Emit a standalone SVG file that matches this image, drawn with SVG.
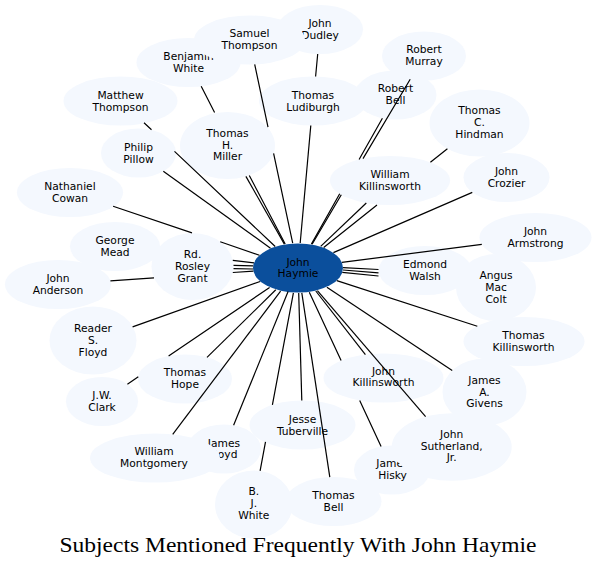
<svg xmlns="http://www.w3.org/2000/svg" width="597" height="574" viewBox="0 0 597 574">
<style>
.n ellipse{fill:#f4f8fe}
.c ellipse{fill:#0b4f9c}
text{font-family:"DejaVu Sans",sans-serif;font-size:10.7px;text-anchor:middle;fill:#000}
.t{font-family:"Liberation Serif",serif;font-size:21px}
#edges path{stroke:#000;stroke-width:1.2;fill:none}
</style>
<rect width="597" height="574" fill="#fff"/>
<g id="nodes">
<g id="john-dudley" class="n"><ellipse cx="320" cy="29.5" rx="43" ry="24.5"/><text x="320" y="27.3">John</text><text x="320" y="39">Dudley</text></g>
<g id="benjamin-white" class="n"><ellipse cx="188.5" cy="62.5" rx="52" ry="24.5"/><text x="188.5" y="60.3">Benjamin</text><text x="188.5" y="72">White</text></g>
<g id="samuel-thompson" class="n"><ellipse cx="249.5" cy="40" rx="55.5" ry="24.5"/><text x="249.5" y="37">Samuel</text><text x="249.5" y="48.7">Thompson</text></g>
<g id="matthew-thompson" class="n"><ellipse cx="120.5" cy="101" rx="57" ry="24.5"/><text x="120.5" y="98.8">Matthew</text><text x="120.5" y="110.5">Thompson</text></g>
<g id="thomas-ludiburgh" class="n"><ellipse cx="313" cy="101" rx="54" ry="24.5"/><text x="313" y="98.8">Thomas</text><text x="313" y="110.5">Ludiburgh</text></g>
<g id="robert-murray" class="n"><ellipse cx="424" cy="56" rx="42" ry="24.5"/><text x="424" y="53.3">Robert</text><text x="424" y="65">Murray</text></g>
<g id="robert-bell" class="n"><ellipse cx="395.5" cy="95" rx="41" ry="24.5"/><text x="395.5" y="92.3">Robert</text><text x="395.5" y="104">Bell</text></g>
<g id="thomas-c-hindman" class="n"><ellipse cx="479.5" cy="123" rx="50" ry="33.5"/><text x="479.5" y="114.4">Thomas</text><text x="479.5" y="126.1">C.</text><text x="479.5" y="137.8">Hindman</text></g>
<g id="thomas-h-miller" class="n"><ellipse cx="227.5" cy="145.5" rx="47.5" ry="33.5"/><text x="227.5" y="136.9">Thomas</text><text x="227.5" y="148.6">H.</text><text x="227.5" y="160.3">Miller</text></g>
<g id="philip-pillow" class="n"><ellipse cx="138.5" cy="153" rx="37.5" ry="24.5"/><text x="138.5" y="150.8">Philip</text><text x="138.5" y="162.5">Pillow</text></g>
<g id="william-killinsworth" class="n"><ellipse cx="390" cy="180.5" rx="60" ry="24.5"/><text x="390" y="178.3">William</text><text x="390" y="190">Killinsworth</text></g>
<g id="john-crozier" class="n"><ellipse cx="506.5" cy="177.5" rx="43" ry="24.5"/><text x="506.5" y="175.3">John</text><text x="506.5" y="187">Crozier</text></g>
<g id="nathaniel-cowan" class="n"><ellipse cx="70" cy="192.5" rx="53" ry="24.5"/><text x="70" y="190.3">Nathaniel</text><text x="70" y="202">Cowan</text></g>
<g id="george-mead" class="n"><ellipse cx="115" cy="246.5" rx="45" ry="24.5"/><text x="115" y="244.3">George</text><text x="115" y="256">Mead</text></g>
<g id="rd-rosley-grant" class="n"><ellipse cx="192.5" cy="266.5" rx="41" ry="33.5"/><text x="192.5" y="258.2">Rd.</text><text x="192.5" y="269.9">Rosley</text><text x="192.5" y="281.6">Grant</text></g>
<g id="john-anderson" class="n"><ellipse cx="58" cy="284.5" rx="53" ry="24.5"/><text x="58" y="282">John</text><text x="58" y="293.7">Anderson</text></g>
<g id="john-armstrong" class="n"><ellipse cx="535.5" cy="237.5" rx="56" ry="24.5"/><text x="535.5" y="235">John</text><text x="535.5" y="246.7">Armstrong</text></g>
<g id="edmond-walsh" class="n"><ellipse cx="425" cy="270.5" rx="46.5" ry="24.5"/><text x="425" y="268.2">Edmond</text><text x="425" y="279.9">Walsh</text></g>
<g id="angus-mac-colt" class="n"><ellipse cx="496" cy="287.5" rx="40" ry="33.5"/><text x="496" y="279.3">Angus</text><text x="496" y="291">Mac</text><text x="496" y="302.7">Colt</text></g>
<g id="reader-s-floyd" class="n"><ellipse cx="93" cy="340.5" rx="43.5" ry="34"/><text x="93" y="332.2">Reader</text><text x="93" y="343.9">S.</text><text x="93" y="355.6">Floyd</text></g>
<g id="thomas-killinsworth" class="n"><ellipse cx="524" cy="341.5" rx="60.5" ry="24.5"/><text x="523.5" y="339.1">Thomas</text><text x="523.5" y="350.8">Killinsworth</text></g>
<g id="thomas-hope" class="n"><ellipse cx="185" cy="379" rx="47" ry="24.5"/><text x="185" y="376.3">Thomas</text><text x="185" y="388">Hope</text></g>
<g id="jw-clark" class="n"><ellipse cx="102" cy="401.5" rx="36" ry="24.5"/><text x="102" y="399.1">J.W.</text><text x="102" y="410.8">Clark</text></g>
<g id="john-killinsworth" class="n"><ellipse cx="383.5" cy="378" rx="60" ry="24.5"/><text x="383.5" y="374.6">John</text><text x="383.5" y="386.3">Killinsworth</text></g>
<g id="james-a-givens" class="n"><ellipse cx="484.5" cy="392" rx="42" ry="33.5"/><text x="484.5" y="383.9">James</text><text x="484.5" y="395.6">A.</text><text x="484.5" y="407.3">Givens</text></g>
<g id="jesse-tuberville" class="n"><ellipse cx="302.5" cy="425" rx="53" ry="24.5"/><text x="302.5" y="423.2">Jesse</text><text x="302.5" y="434.9">Tuberville</text></g>
<g id="james-hisky" class="n"><ellipse cx="392" cy="470" rx="38" ry="24.5"/><text x="392.5" y="467.3">James</text><text x="392.5" y="479">Hisky</text></g>
<g id="john-sutherland-jr" class="n"><ellipse cx="451.7" cy="447" rx="60" ry="33.7"/><text x="451.7" y="437.9">John</text><text x="451.7" y="449.6">Sutherland,</text><text x="451.7" y="461.3">Jr.</text></g>
<g id="james-boyd" class="n"><ellipse cx="224" cy="449" rx="37" ry="24.5"/><text x="224" y="446.7">James</text><text x="224" y="458.4">Boyd</text></g>
<g id="william-montgomery" class="n"><ellipse cx="155" cy="458" rx="65" ry="24.5"/><text x="154" y="455.4">William</text><text x="154" y="467.1">Montgomery</text></g>
<g id="b-j-white" class="n"><ellipse cx="253.8" cy="504.5" rx="38.8" ry="34"/><text x="253.8" y="495.2">B.</text><text x="253.8" y="506.9">J.</text><text x="253.8" y="518.6">White</text></g>
<g id="thomas-bell" class="n"><ellipse cx="333.5" cy="501.5" rx="48" ry="24.5"/><text x="333.5" y="498.8">Thomas</text><text x="333.5" y="510.5">Bell</text></g>
<g id="john-haymie" class="c"><ellipse cx="298" cy="268" rx="45" ry="24.5"/><text x="298" y="265.7">John</text><text x="298" y="277.4">Haymie</text></g>
</g>
<g id="edges">
<path d="M254.7,64.4 L268,127.2 M273.6,153.3 L292.7,243.2"/>
<path d="M317.7,54 L315.6,76.5"/>
<path d="M201.2,86.3 L214.6,112.4 M249.3,175.5 L285.2,244"/>
<path d="M144,122.7 L151.5,129.7 M174.5,151.4 L275.2,246.5"/>
<path d="M310.8,125.5 L300.2,243"/>
<path d="M410.2,79.2 L363,158.6 M341.3,194.8 L312.1,244.3"/>
<path d="M382.4,118.2 L359.1,159.5 M339.7,193.8 L311.4,244.1"/>
<path d="M447.4,148.7 L430.4,162.3 M377,205 L323.7,247.5"/>
<path d="M245.9,176.4 L284.4,244.1"/>
<path d="M163.3,171.2 L270.5,248.2"/>
<path d="M366.3,203 L320.7,246.4"/>
<path d="M472.3,192.4 L333.4,252.6"/>
<path d="M113.1,206.3 L192,232.9 M220.2,241.8 L259.4,255.2"/>
<path d="M232.8,260.3 L254,262.8"/>
<path d="M233.5,265.3 L253.2,265.8"/>
<path d="M233.5,268.7 L253.2,269"/>
<path d="M110.4,280.9 L154,277.9 M232.8,272.5 L253.4,271.1"/>
<path d="M132.6,326.9 L260.1,281.5"/>
<path d="M207,357.4 L275.8,289.8"/>
<path d="M127.4,384.2 L138.3,376.8 M168.6,356.1 L269.6,287.4"/>
<path d="M172.7,434.4 L280.6,291.1"/>
<path d="M233.6,425.3 L288.1,291.6"/>
<path d="M260.1,470.9 L265.5,441.9 M272.4,404.9 L293.4,292.9"/>
<path d="M301.8,400.5 L298.7,293"/>
<path d="M329.8,477.1 L301.8,292.9"/>
<path d="M381.1,446.5 L359.7,400.5 M341.1,360.5 L309.3,292.2"/>
<path d="M365.4,354.7 L315.8,291"/>
<path d="M425.6,416.6 L317.4,290.6"/>
<path d="M452.2,370.5 L326.9,287.2"/>
<path d="M477.3,326.2 L336.8,280.6"/>
<path d="M378.5,276 L342.3,272.4"/>
<path d="M378.5,269.5 L343,267.6"/>
<path d="M378.5,272.8 L343,270"/>
<path d="M481.8,244.4 L341.9,262.4"/>
</g>
<text class="t" x="298" y="552" textLength="477" lengthAdjust="spacingAndGlyphs">Subjects Mentioned Frequently With John Haymie</text>
</svg>
